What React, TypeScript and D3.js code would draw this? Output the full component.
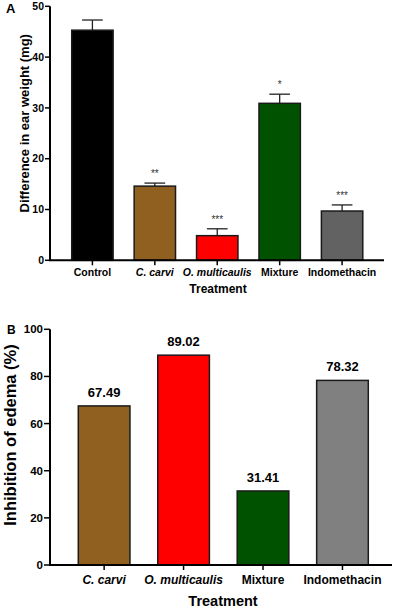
import React from "react";
import * as d3 from "d3";

const catsA = ["Control", "C. carvi", "O. multicaulis", "Mixture", "Indomethacin"];
const italicA = [false, true, true, false, false];
const meansA = [45.3, 14.6, 4.85, 30.9, 9.7];
const errA = [2.0, 0.6, 1.35, 1.8, 1.2];
const starsA = ["", "**", "***", "*", "***"];
const colorsA = ["#000000", "#8f6020", "#ff0000", "#005200", "#626262"];
const ticksA = [0, 10, 20, 30, 40, 50];

const catsB = ["C. carvi", "O. multicaulis", "Mixture", "Indomethacin"];
const italicB = [true, true, false, false];
const valuesB = [67.49, 89.02, 31.41, 78.32];
const colorsB = ["#8f6020", "#ff0000", "#005200", "#808080"];
const ticksB = [0, 20, 40, 60, 80, 100];

const FONT = "'Liberation Sans', Arial, Helvetica, sans-serif";

export default function App() {
  // Panel A scales
  const xA = d3.scaleBand<string>().domain(catsA).range([61.2, 373.3]).paddingInner(0.337).paddingOuter(0.1685);
  const yA = d3.scaleLinear().domain([0, 50]).range([260.3, 6.3]);
  // Panel B scales
  const xB = d3.scaleBand<string>().domain(catsB).range([64.4, 382.2]).paddingInner(0.35).paddingOuter(0.175);
  const yB = d3.scaleLinear().domain([0, 100]).range([565, 329.3]);

  const axA = 50;
  const axB = 50;

  return (
    <svg width={400} height={610} style={{ position: "absolute", left: 0, top: 0, background: "#fff" }} fontFamily={FONT}>
      {/* Panel A */}
      <text x={6} y={13} fontSize={13} fontWeight="bold">A</text>
      {catsA.map((c, i) => {
        const x0 = xA(c)!;
        const w = xA.bandwidth();
        const cx = x0 + w / 2;
        const top = yA(meansA[i]);
        const et = yA(meansA[i] + errA[i]);
        return (
          <g key={c}>
            <line x1={cx} x2={cx} y1={top} y2={et} stroke="#222" strokeWidth={1.3} />
            <line x1={cx - w / 4} x2={cx + w / 4} y1={et} y2={et} stroke="#222" strokeWidth={1.3} />
            <rect x={x0} y={top} width={w} height={yA(0) - top} fill={colorsA[i]} stroke="#1a1a1a" strokeWidth={1.5} />
            {starsA[i] && (
              <text x={cx} y={et - 6} fontSize={10} textAnchor="middle" fill="#333">{starsA[i]}</text>
            )}
            <line x1={cx} x2={cx} y1={yA(0)} y2={yA(0) + 5} stroke="#000" strokeWidth={1.5} />
            <text x={cx} y={276} fontSize={10.5} fontWeight="bold" fontStyle={italicA[i] ? "italic" : "normal"} textAnchor="middle">{c}</text>
          </g>
        );
      })}
      <line x1={axA} x2={axA} y1={yA(50)} y2={yA(0)} stroke="#000" strokeWidth={2} />
      <line x1={axA - 1} x2={384} y1={yA(0)} y2={yA(0)} stroke="#000" strokeWidth={2} />
      {ticksA.map((t) => (
        <g key={t}>
          <line x1={axA - 5} x2={axA} y1={yA(t)} y2={yA(t)} stroke="#000" strokeWidth={1.5} />
          <text x={axA - 6} y={yA(t) + 3.7} fontSize={10.5} fontWeight="bold" textAnchor="end">{t}</text>
        </g>
      ))}
      <text transform={`translate(28.5,${yA(25) - 10}) rotate(-90)`} fontSize={13} fontWeight="bold" textAnchor="middle">Difference in ear weight (mg)</text>
      <text x={218} y={293} fontSize={12} fontWeight="bold" textAnchor="middle">Treatment</text>

      {/* Panel B */}
      <text x={7} y={333.5} fontSize={12} fontWeight="bold">B</text>
      {catsB.map((c, i) => {
        const x0 = xB(c)!;
        const w = xB.bandwidth();
        const cx = x0 + w / 2;
        const top = yB(valuesB[i]);
        return (
          <g key={c}>
            <rect x={x0} y={top} width={w} height={yB(0) - top} fill={colorsB[i]} stroke="#1a1a1a" strokeWidth={1.5} />
            <text x={cx} y={top - 9} fontSize={13} fontWeight="bold" textAnchor="middle">{d3.format(".2f")(valuesB[i])}</text>
            <line x1={cx} x2={cx} y1={yB(0)} y2={yB(0) + 5} stroke="#000" strokeWidth={1.5} />
            <text x={cx} y={583.5} fontSize={12} fontWeight="bold" fontStyle={italicB[i] ? "italic" : "normal"} textAnchor="middle">{c}</text>
          </g>
        );
      })}
      <line x1={axB} x2={axB} y1={yB(100)} y2={yB(0)} stroke="#000" strokeWidth={2} />
      <line x1={axB - 1} x2={392} y1={yB(0)} y2={yB(0)} stroke="#000" strokeWidth={2} />
      {ticksB.map((t) => (
        <g key={t}>
          <line x1={axB - 6} x2={axB} y1={yB(t)} y2={yB(t)} stroke="#000" strokeWidth={1.5} />
          <text x={axB - 7} y={yB(t) + 4} fontSize={11.5} fontWeight="bold" textAnchor="end">{t}</text>
        </g>
      ))}
      <text transform={`translate(16,435) rotate(-90)`} fontSize={16.5} fontWeight="bold" textAnchor="middle">Inhibition of edema (%)</text>
      <text x={223} y={606} fontSize={14.5} fontWeight="bold" textAnchor="middle">Treatment</text>
    </svg>
  );
}
